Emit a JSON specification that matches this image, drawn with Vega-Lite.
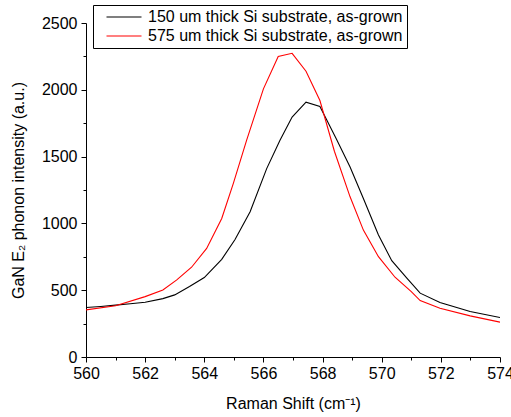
{
  "$schema": "https://vega.github.io/schema/vega-lite/v6.json",
  "width": 414,
  "height": 334,
  "autosize": {"type": "none"},
  "padding": {"left": 86, "top": 23, "right": 11, "bottom": 60},
  "background": "white",
  "config": {
    "view": {"stroke": null},
    "font": "Liberation Sans",
    "axis": {"domainColor": "black", "tickColor": "black", "labelColor": "black", "titleColor": "black", "grid": false, "labelFont": "Liberation Sans", "titleFont": "Liberation Sans", "labelFontSize": 16, "titleFontSize": 16, "titleFontWeight": "normal"}
  },
  "data": {
    "values": [
      {"x": 560.0, "y": 370, "s": "150 um thick Si substrate, as-grown"},
      {"x": 560.5, "y": 378, "s": "150 um thick Si substrate, as-grown"},
      {"x": 561.0, "y": 388, "s": "150 um thick Si substrate, as-grown"},
      {"x": 561.5, "y": 398, "s": "150 um thick Si substrate, as-grown"},
      {"x": 562.0, "y": 410, "s": "150 um thick Si substrate, as-grown"},
      {"x": 562.6, "y": 437, "s": "150 um thick Si substrate, as-grown"},
      {"x": 563.0, "y": 465, "s": "150 um thick Si substrate, as-grown"},
      {"x": 563.5, "y": 527, "s": "150 um thick Si substrate, as-grown"},
      {"x": 564.0, "y": 595, "s": "150 um thick Si substrate, as-grown"},
      {"x": 564.59, "y": 731, "s": "150 um thick Si substrate, as-grown"},
      {"x": 565.04, "y": 880, "s": "150 um thick Si substrate, as-grown"},
      {"x": 565.55, "y": 1087, "s": "150 um thick Si substrate, as-grown"},
      {"x": 566.11, "y": 1410, "s": "150 um thick Si substrate, as-grown"},
      {"x": 566.56, "y": 1622, "s": "150 um thick Si substrate, as-grown"},
      {"x": 566.97, "y": 1796, "s": "150 um thick Si substrate, as-grown"},
      {"x": 567.44, "y": 1907, "s": "150 um thick Si substrate, as-grown"},
      {"x": 567.91, "y": 1875, "s": "150 um thick Si substrate, as-grown"},
      {"x": 568.45, "y": 1640, "s": "150 um thick Si substrate, as-grown"},
      {"x": 568.93, "y": 1422, "s": "150 um thick Si substrate, as-grown"},
      {"x": 569.38, "y": 1187, "s": "150 um thick Si substrate, as-grown"},
      {"x": 569.89, "y": 913, "s": "150 um thick Si substrate, as-grown"},
      {"x": 570.34, "y": 721, "s": "150 um thick Si substrate, as-grown"},
      {"x": 570.85, "y": 590, "s": "150 um thick Si substrate, as-grown"},
      {"x": 571.3, "y": 478, "s": "150 um thick Si substrate, as-grown"},
      {"x": 571.97, "y": 408, "s": "150 um thick Si substrate, as-grown"},
      {"x": 572.99, "y": 340, "s": "150 um thick Si substrate, as-grown"},
      {"x": 574.0, "y": 296, "s": "150 um thick Si substrate, as-grown"},
      {"x": 560.0, "y": 353, "s": "575 um thick Si substrate, as-grown"},
      {"x": 561.0, "y": 383, "s": "575 um thick Si substrate, as-grown"},
      {"x": 562.0, "y": 452, "s": "575 um thick Si substrate, as-grown"},
      {"x": 562.6, "y": 502, "s": "575 um thick Si substrate, as-grown"},
      {"x": 563.07, "y": 577, "s": "575 um thick Si substrate, as-grown"},
      {"x": 563.57, "y": 672, "s": "575 um thick Si substrate, as-grown"},
      {"x": 564.08, "y": 813, "s": "575 um thick Si substrate, as-grown"},
      {"x": 564.59, "y": 1037, "s": "575 um thick Si substrate, as-grown"},
      {"x": 564.98, "y": 1298, "s": "575 um thick Si substrate, as-grown"},
      {"x": 565.43, "y": 1622, "s": "575 um thick Si substrate, as-grown"},
      {"x": 566.0, "y": 2007, "s": "575 um thick Si substrate, as-grown"},
      {"x": 566.5, "y": 2249, "s": "575 um thick Si substrate, as-grown"},
      {"x": 566.97, "y": 2273, "s": "575 um thick Si substrate, as-grown"},
      {"x": 567.44, "y": 2139, "s": "575 um thick Si substrate, as-grown"},
      {"x": 567.91, "y": 1920, "s": "575 um thick Si substrate, as-grown"},
      {"x": 568.4, "y": 1540, "s": "575 um thick Si substrate, as-grown"},
      {"x": 568.93, "y": 1199, "s": "575 um thick Si substrate, as-grown"},
      {"x": 569.38, "y": 950, "s": "575 um thick Si substrate, as-grown"},
      {"x": 569.89, "y": 751, "s": "575 um thick Si substrate, as-grown"},
      {"x": 570.45, "y": 597, "s": "575 um thick Si substrate, as-grown"},
      {"x": 571.0, "y": 490, "s": "575 um thick Si substrate, as-grown"},
      {"x": 571.3, "y": 422, "s": "575 um thick Si substrate, as-grown"},
      {"x": 571.97, "y": 365, "s": "575 um thick Si substrate, as-grown"},
      {"x": 572.99, "y": 308, "s": "575 um thick Si substrate, as-grown"},
      {"x": 574.0, "y": 261, "s": "575 um thick Si substrate, as-grown"}
    ]
  },
  "mark": {"type": "line", "strokeWidth": 1.1, "clip": true},
  "encoding": {
    "x": {
      "field": "x", "type": "quantitative",
      "scale": {"domain": [560, 574], "nice": false, "zero": false},
      "axis": {
        "title": "Raman Shift (cm\u207b\u00b9)",
        "values": [560,561,562,563,564,565,566,567,568,569,570,571,572,573,574],
        "labelExpr": "datum.value % 2 === 0 ? datum.label : ''",
        "tickSize": {"condition": {"test": "datum.value % 2 === 0", "value": 5}, "value": 3},
        "labelPadding": 3,
        "titlePadding": 14,
        "labelFlush": false
      }
    },
    "y": {
      "field": "y", "type": "quantitative",
      "scale": {"domain": [0, 2500], "nice": false},
      "axis": {
        "title": "GaN E\u2082 phonon intensity (a.u.)",
        "values": [0,250,500,750,1000,1250,1500,1750,2000,2250,2500],
        "labelExpr": "datum.value % 500 === 0 ? datum.label : ''",
        "tickSize": {"condition": {"test": "datum.value % 500 === 0", "value": 5}, "value": 3},
        "labelPadding": 4,
        "titlePadding": 15,
        "format": "d",
        "labelFlush": false
      }
    },
    "color": {
      "field": "s", "type": "nominal",
      "scale": {"range": ["#000000", "#ff0000"]},
      "legend": {
        "title": null,
        "orient": "none",
        "legendX": 7,
        "legendY": -18,
        "symbolType": "M-3.5,0H3.5",
        "symbolSize": 100,
        "symbolStrokeWidth": 1.2,
        "symbolFillColor": "transparent",
        "labelFontSize": 16,
        "labelFont": "Liberation Sans",
        "labelColor": "black",
        "labelOffset": 16,
        "strokeColor": "black",
        "fillColor": "white",
        "padding": 4,
        "rowPadding": 3,
        "symbolOffset": 19,
        "labelLimit": 400
      }
    }
  }
}
